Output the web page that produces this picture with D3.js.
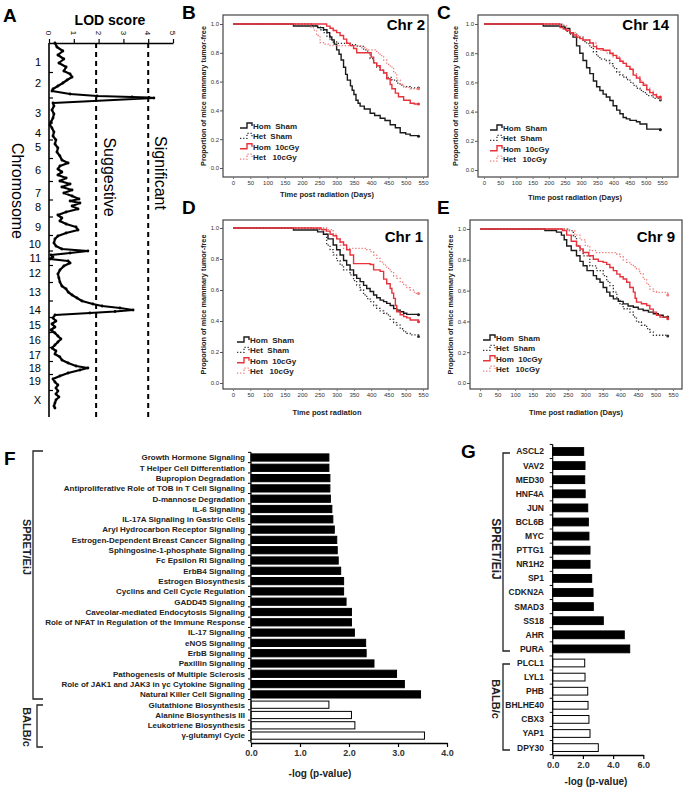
<!DOCTYPE html>
<html><head><meta charset="utf-8">
<script src="https://cdn.jsdelivr.net/npm/d3@7"></script>
<style>
body{margin:0;background:#fff}
svg{display:block}
text{font-family:"Liberation Sans",Arial,sans-serif}
.pre{white-space:pre}
</style>
</head><body>
<svg id="c" width="685" height="790"></svg>
<script>
// ---------- DATA ----------
// Panel A: LOD profile (genome position index, LOD)
const chrLabels = ["1","2","3","4","5","6","7","8","9","10","11","12","13","14","15","16","17","18","19","X"];
const chrCenters = [19,40,70,90,104,127,150,164,184,201,215,230,249,267,282,297,312,325,338,357];
const lodTicks = [0,1,2,3,4,5];
const suggestiveLOD = 1.9;
const significantLOD = 4.0;
const lodCurve = [
 [0,0.24],[4,0.32],[8,0.56],[12,0.36],[16,0.60],[20,0.40],[24,0.69],[28,0.60],[31,0.85],[34,0.93],[37,0.73],[40,0.56],[43,0.36],[46,0.16],[48,0.12],
 [51,0.85],[53,1.94],[54,3.35],[54.5,4.03],[55,4.23],[60,0.16],
 [63,0.20],[67,0.12],[71,0.20],[75,0.16],[79,0.08],[82,0.04],
 [85,0.12],[89,0.20],[93,0.16],[97,0.28],[101,0.24],[105,0.36],[109,0.32],[113,0.44],[117,0.52],[120,0.77],[123,0.44],[126,0.36],
 [129,0.52],[132,0.36],[135,0.69],[138,0.44],[141,0.85],[144,0.52],[147,0.93],[150,0.60],
 [153,0.93],[156,1.21],[158,0.85],[160,1.25],[163,0.93],[166,1.17],[169,0.69],
 [172,0.36],[175,0.52],[178,0.44],[181,0.69],[184,1.09],[187,1.17],[190,0.69],[193,0.36],
 [196,0.24],[200,0.20],[203,0.28],[206,0.52],[208,1.57],[210,0.85],[212,0.08],[214,0.16],[216,0.04],
 [218,0.77],[220,0.85],[223,0.60],[227,0.44],[231,0.36],[235,0.40],[239,0.44],[243,0.52],[246,0.69],[249,0.77],[252,0.93],[255,1.13],[258,1.33],[261,1.77],[263,2.14],[265,2.86],[267,3.39],[268.5,2.66],[270,1.65],[272,0.24],
 [275,0.16],[278,0.28],[281,0.12],[284,0.24],[287,0.08],[290,0.24],
 [293,0.36],[296,0.48],[299,0.36],[302,0.24],[305,0.12],[308,0.28],[311,0.24],
 [314,0.44],[317,0.52],[320,0.77],[323,1.09],[325,1.57],[327,1.25],[330,0.77],[333,0.44],[336,0.16],
 [339,0.24],[342,0.36],[345,0.28],[348,0.36],[351,0.28],[354,0.40],[357,0.28],[360,0.24],[363,0.20],[365,0.24]
];

// Panels B-E: Kaplan-Meier curves [day, proportion tumor-free]
const kmXTicks = [0,50,100,150,200,250,300,350,400,450,500,550];
const kmYTicks = [0,0.2,0.4,0.6,0.8,1.0];
const kmSeriesNames = ["Hom  Sham","Het  Sham","Hom  10cGy","Het   10cGy"];

const chr2HomSham = [[0,1],[175,0.986],[245,0.975],[262,0.96],[272,0.94],[280,0.91],[286,0.89],[293,0.86],[300,0.82],[307,0.79],[313,0.75],[320,0.70],[326,0.65],[331,0.61],[340,0.57],[345,0.54],[350,0.51],[356,0.47],[362,0.45],[368,0.43],[380,0.41],[397,0.38],[410,0.365],[426,0.345],[440,0.33],[455,0.30],[470,0.28],[484,0.245],[500,0.235],[513,0.225],[537,0.22]];
const chr2HetSham = [[0,1],[230,0.99],[242,0.98],[252,0.96],[262,0.94],[272,0.915],[281,0.89],[290,0.875],[300,0.866],[339,0.856],[360,0.845],[378,0.82],[390,0.80],[397,0.76],[407,0.73],[416,0.70],[426,0.68],[436,0.66],[445,0.63],[460,0.61],[474,0.59],[484,0.575],[494,0.565],[513,0.556],[537,0.556]];
const chr2Hom10 = [[0,1],[271,0.985],[281,0.97],[290,0.955],[300,0.94],[310,0.92],[320,0.895],[329,0.866],[339,0.85],[349,0.83],[358,0.80],[400,0.77],[407,0.73],[416,0.71],[426,0.68],[436,0.66],[445,0.62],[455,0.58],[460,0.55],[470,0.52],[479,0.495],[494,0.47],[513,0.45],[525,0.444],[537,0.444]];
const chr2Het10 = [[0,1],[225,0.98],[233,0.958],[242,0.92],[252,0.87],[262,0.86],[281,0.85],[349,0.85],[370,0.835],[387,0.82],[416,0.80],[426,0.78],[436,0.75],[445,0.72],[455,0.70],[465,0.66],[474,0.61],[484,0.58],[494,0.56],[513,0.55],[537,0.55]];

const chr14HomSham = [[0,1],[183,0.986],[240,0.98],[250,0.97],[265,0.94],[275,0.91],[286,0.85],[296,0.80],[306,0.75],[317,0.70],[327,0.66],[338,0.61],[348,0.57],[358,0.545],[368,0.52],[378,0.50],[389,0.476],[399,0.44],[410,0.41],[420,0.385],[430,0.36],[440,0.35],[451,0.34],[471,0.33],[482,0.315],[503,0.28],[545,0.275]];
const chr14HetSham = [[0,1],[240,0.99],[250,0.96],[255,0.95],[265,0.93],[286,0.91],[306,0.88],[317,0.865],[327,0.84],[338,0.81],[348,0.78],[358,0.76],[378,0.75],[389,0.729],[399,0.70],[410,0.67],[420,0.65],[430,0.637],[440,0.62],[451,0.60],[461,0.58],[471,0.56],[482,0.545],[492,0.53],[503,0.51],[523,0.49],[545,0.48]];
const chr14Hom10 = [[0,1],[235,0.975],[245,0.965],[255,0.955],[265,0.94],[275,0.925],[286,0.91],[296,0.90],[306,0.89],[327,0.87],[338,0.845],[348,0.83],[368,0.82],[389,0.80],[399,0.785],[410,0.765],[420,0.745],[430,0.73],[440,0.71],[451,0.69],[461,0.65],[471,0.63],[482,0.60],[492,0.58],[503,0.55],[512,0.53],[523,0.515],[533,0.50],[545,0.50]];
const chr14Het10 = [[0,1],[235,0.99],[255,0.96],[265,0.94],[286,0.92],[296,0.91],[306,0.89],[327,0.87],[348,0.83],[358,0.82],[378,0.80],[389,0.79],[399,0.775],[420,0.75],[430,0.73],[440,0.71],[451,0.69],[461,0.66],[471,0.64],[482,0.61],[492,0.59],[503,0.56],[512,0.54],[523,0.52],[533,0.50],[545,0.49]];

const chr1HomSham = [[0,1],[175,0.987],[245,0.975],[262,0.96],[275,0.93],[290,0.89],[300,0.86],[310,0.826],[320,0.79],[329,0.761],[339,0.73],[349,0.697],[358,0.675],[368,0.654],[378,0.63],[387,0.61],[397,0.59],[407,0.568],[416,0.55],[426,0.535],[436,0.525],[445,0.514],[455,0.50],[465,0.48],[474,0.47],[484,0.46],[494,0.45],[503,0.443],[537,0.44]];
const chr1HetSham = [[0,1],[230,0.995],[250,0.99],[262,0.96],[271,0.89],[281,0.86],[290,0.826],[300,0.79],[310,0.76],[320,0.73],[339,0.697],[349,0.66],[358,0.632],[368,0.60],[378,0.568],[387,0.545],[397,0.525],[407,0.50],[416,0.482],[426,0.465],[436,0.45],[445,0.439],[455,0.41],[465,0.39],[474,0.374],[484,0.35],[494,0.33],[503,0.32],[513,0.31],[537,0.30]];
const chr1Hom10 = [[0,1],[255,0.99],[270,0.98],[281,0.96],[290,0.95],[300,0.93],[310,0.91],[320,0.89],[329,0.86],[339,0.826],[349,0.77],[397,0.765],[407,0.73],[426,0.72],[436,0.67],[445,0.64],[455,0.61],[460,0.58],[465,0.546],[470,0.50],[474,0.46],[484,0.44],[494,0.428],[503,0.42],[513,0.406],[537,0.395]];
const chr1Het10 = [[0,1],[275,0.99],[290,0.96],[300,0.93],[310,0.89],[320,0.869],[387,0.86],[397,0.847],[407,0.825],[416,0.804],[426,0.78],[436,0.76],[445,0.74],[455,0.718],[465,0.69],[474,0.675],[484,0.65],[494,0.632],[503,0.615],[513,0.60],[525,0.578],[537,0.578]];

const chr9HomSham = [[0,1],[185,0.99],[218,0.98],[232,0.96],[240,0.93],[247,0.89],[260,0.86],[275,0.826],[285,0.79],[294,0.761],[305,0.73],[323,0.697],[332,0.675],[342,0.654],[351,0.62],[361,0.59],[370,0.565],[380,0.546],[394,0.53],[408,0.514],[422,0.50],[437,0.492],[451,0.48],[465,0.471],[480,0.46],[494,0.45],[508,0.44],[522,0.428],[535,0.428]];
const chr9HetSham = [[0,1],[255,0.99],[266,0.95],[275,0.89],[285,0.86],[294,0.826],[313,0.76],[332,0.73],[351,0.697],[361,0.66],[370,0.632],[380,0.59],[390,0.546],[399,0.51],[408,0.482],[427,0.46],[437,0.43],[446,0.396],[460,0.375],[475,0.353],[484,0.33],[494,0.31],[535,0.305]];
const chr9Hom10 = [[0,1],[235,0.99],[247,0.96],[260,0.92],[275,0.89],[285,0.87],[294,0.847],[310,0.826],[323,0.804],[337,0.79],[351,0.783],[361,0.77],[370,0.75],[380,0.73],[390,0.707],[399,0.69],[408,0.675],[418,0.654],[427,0.62],[437,0.59],[442,0.55],[446,0.525],[460,0.515],[475,0.503],[484,0.48],[494,0.46],[503,0.44],[513,0.428],[535,0.417]];
const chr9Het10 = [[0,1],[255,0.99],[270,0.96],[285,0.93],[300,0.89],[313,0.86],[332,0.847],[390,0.836],[399,0.82],[408,0.80],[418,0.783],[427,0.77],[437,0.755],[446,0.74],[455,0.71],[465,0.675],[475,0.64],[484,0.61],[494,0.595],[503,0.589],[535,0.572]];

// Panel F: canonical pathways
const fTerms = ["Growth Hormone Signaling","T Helper Cell Differentiation","Bupropion Degradation","Antiproliferative Role of TOB in T Cell Signaling","D-mannose Degradation","IL-6 Signaling","IL-17A Signaling in Gastric Cells","Aryl Hydrocarbon Receptor Signaling","Estrogen-Dependent Breast Cancer Signaling","Sphingosine-1-phosphate Signaling","Fc Epsilon RI Signaling","ErbB4 Signaling","Estrogen Biosynthesis","Cyclins and Cell Cycle Regulation","GADD45 Signaling","Caveolar-mediated Endocytosis Signaling","Role of NFAT in Regulation of the Immune Response","IL-17 Signaling","eNOS Signaling","ErbB Signaling","Paxillin Signaling","Pathogenesis of Multiple Sclerosis","Role of JAK1 and JAK3 in γc Cytokine Signaling","Natural Killer Cell Signaling","Glutathione Biosynthesis","Alanine Biosynthesis III","Leukotriene Biosynthesis","γ-glutamyl Cycle"];
const fValues = [1.59,1.59,1.61,1.61,1.62,1.65,1.67,1.70,1.75,1.76,1.78,1.83,1.89,1.89,1.94,2.05,2.05,2.11,2.34,2.35,2.51,2.97,3.13,3.46,1.59,2.05,2.12,3.54];
const fSpretCount = 24;
const fTicks = [0,1,2,3,4];

// Panel G: upstream regulators
const gGenes = ["ASCL2","VAV2","MED30","HNF4A","JUN","BCL6B","MYC","PTTG1","NR1H2","SP1","CDKN2A","SMAD3","SS18","AHR","PURA","PLCL1","LYL1","PHB","BHLHE40","CBX3","YAP1","DPY30"];
const gValues = [2.05,2.14,2.12,2.15,2.32,2.36,2.40,2.47,2.47,2.58,2.67,2.69,3.35,4.74,5.10,2.12,2.14,2.32,2.34,2.40,2.47,3.02];
const gSpretCount = 15;
const gTicks = [0,2,4,6];

// ---------- DRAW ----------
const svg = d3.select("#c");
svg.append("rect").attr("width",685).attr("height",790).attr("fill","#fff");
const FONT = "'Liberation Sans',Arial,sans-serif";

function panelLabel(t,x,y){
  svg.append("text").attr("x",x).attr("y",y).attr("font-size",19).attr("font-weight","bold").text(t);
}

// ===== Panel A =====
(function(){
  const g = svg.append("g");
  const xL = d3.scaleLinear().domain([0,5]).range([49,173]);
  const yP = d3.scaleLinear().domain([0,374]).range([43,417]);
  panelLabel("A",3,22);
  g.append("text").attr("x",110).attr("y",25).attr("text-anchor","middle").attr("font-size",14).attr("font-weight","bold").text("LOD  score");
  const ax = g.append("g").attr("transform","translate(0,43)")
    .call(d3.axisTop(xL).tickValues(lodTicks).tickSize(4).tickSizeOuter(0).tickFormat(""));
  ax.select(".domain").attr("stroke","#000").attr("stroke-width",1.6);
  ax.selectAll(".tick line").attr("stroke","#000").attr("stroke-width",1.2);
  lodTicks.forEach(t=>{
    g.append("text").attr("x",xL(t)).attr("y",33).attr("transform",`rotate(90,${xL(t)},33)`)
      .attr("text-anchor","middle").attr("dy","0.35em").attr("font-size",8).text(t);
  });
  g.append("line").attr("x1",49).attr("x2",49).attr("y1",yP(0)).attr("y2",yP(374)).attr("stroke","#000").attr("stroke-width",1.6);
  for(let i=0;i<chrCenters.length-1;i++){
    const b=(chrCenters[i]+chrCenters[i+1])/2;
    g.append("line").attr("x1",49).attr("x2",53).attr("y1",yP(b)).attr("y2",yP(b)).attr("stroke","#000").attr("stroke-width",1.2);
  }
  chrLabels.forEach((c,i)=>{
    g.append("text").attr("x",41).attr("y",yP(chrCenters[i])).attr("dy","0.35em").attr("text-anchor","end").attr("font-size",11).text(c);
  });
  g.append("text").attr("transform",`translate(18,191) rotate(90)`).attr("text-anchor","middle").attr("dy","0.35em").attr("font-size",16).text("Chromosome");
  [[suggestiveLOD,"Suggestive",110,177],[significantLOD,"Significant",161,173]].forEach(([v,lab,tx,ty])=>{
    g.append("line").attr("x1",xL(v)).attr("x2",xL(v)).attr("y1",yP(0)).attr("y2",yP(374))
      .attr("stroke","#000").attr("stroke-width",2).attr("stroke-dasharray","5,4");
    g.append("text").attr("transform",`translate(${tx},${ty}) rotate(90)`).attr("text-anchor","middle").attr("dy","0.35em").attr("font-size",16).text(lab);
  });
  const line = d3.line().x(d=>xL(d[1])).y(d=>yP(d[0]));
  g.append("path").datum(lodCurve).attr("d",line).attr("fill","none").attr("stroke","#000").attr("stroke-width",2.2).attr("stroke-linejoin","round");
  g.selectAll("circle.lod").data(lodCurve).enter().append("circle").attr("cx",d=>xL(d[1])).attr("cy",d=>yP(d[0])).attr("r",1.4).attr("fill","#000");
})();

// ===== KM panels =====
const kmStyles = [
  {stroke:"#1a1a1a", w:1.4, dash:null},
  {stroke:"#333", w:1.3, dash:"1.3,1.8"},
  {stroke:"#e8323c", w:1.4, dash:null},
  {stroke:"#f07a7a", w:1.3, dash:"1.3,1.8"}
];
function km(p){
  const g = svg.append("g");
  const x = d3.scaleLinear().domain([0,550]).range(p.xr);
  const y = d3.scaleLinear().domain([0,1]).range(p.yr);
  panelLabel(p.label,p.lx,p.ly);
  g.append("rect").attr("x",p.f[0]).attr("y",p.f[1]).attr("width",p.f[2]-p.f[0]).attr("height",p.f[3]-p.f[1])
    .attr("fill","none").attr("stroke","#444").attr("stroke-width",1.2);
  const ya = g.append("g").attr("transform",`translate(${p.f[0]},0)`)
    .call(d3.axisLeft(y).tickValues(kmYTicks).tickFormat(d3.format(".1f")).tickSize(3).tickPadding(1));
  ya.select(".domain").remove();
  ya.selectAll("text").attr("font-size",6).attr("font-family",FONT).attr("fill","#333");
  ya.selectAll("line").attr("stroke","#555");
  const xa = g.append("g").attr("transform",`translate(0,${p.f[3]})`)
    .call(d3.axisBottom(x).tickValues(kmXTicks).tickSize(2).tickPadding(2));
  xa.select(".domain").remove();
  xa.selectAll("text").attr("font-size",6).attr("font-family",FONT).attr("fill","#333");
  xa.selectAll("line").attr("stroke","#777");
  g.append("text").attr("transform",`translate(${p.ytx},${(p.f[1]+p.f[3])/2}) rotate(-90)`).attr("text-anchor","middle").attr("dy","0.35em")
    .attr("font-size",7.3).attr("font-weight","bold").attr("fill","#222").text("Proportion of mice mammary tumor-free");
  g.append("text").attr("x",p.xt[0]).attr("y",p.xt[1]).attr("text-anchor","middle").attr("font-size",7.5).attr("font-weight","bold").attr("fill","#222").text(p.xtitle);
  g.append("text").attr("x",p.chr[0]).attr("y",p.chr[1]).attr("text-anchor","end").attr("font-size",15).attr("font-weight","bold").text(p.chrName);
  const line = d3.line().x(d=>x(d[0])).y(d=>y(d[1])).curve(d3.curveStepAfter);
  const order=[1,0,3,2];
  order.forEach(i=>{
    const s=kmStyles[i], data=p.series[i];
    const path=g.append("path").datum(data).attr("d",line).attr("fill","none").attr("stroke",s.stroke).attr("stroke-width",s.w);
    if(s.dash) path.attr("stroke-dasharray",s.dash);
    const last=data[data.length-1];
    g.append("circle").attr("cx",x(last[0])).attr("cy",y(last[1])).attr("r",1.5).attr("fill",s.stroke);
  });
  kmSeriesNames.forEach((n,i)=>{
    const s=kmStyles[i], ly=p.leg[1]+i*10.4, lx=p.leg[0];
    const sym=g.append("path").attr("d",`M${lx},${ly+2} H${lx+7} V${ly-3} H${lx+12} V${ly}`).attr("fill","none").attr("stroke",s.stroke).attr("stroke-width",s.w);
    if(s.dash) sym.attr("stroke-dasharray",s.dash);
    g.append("text").attr("class","pre").attr("x",lx+13).attr("y",ly).attr("dy","0.35em").attr("font-size",8).attr("font-weight","bold").attr("fill","#222").text(n);
  });
}
km({label:"B",lx:182,ly:19,f:[223,15,428,177],xr:[233,423],yr:[168,24],ytx:203,xt:[327,197],xtitle:"Time post radiation (Days)",chr:[425,30],chrName:"Chr 2",leg:[240,126],series:[chr2HomSham,chr2HetSham,chr2Hom10,chr2Het10]});
km({label:"C",lx:437,ly:19,f:[478,15,678,177],xr:[484,662],yr:[170,24],ytx:455,xt:[575,200],xtitle:"Time post radiation (Days)",chr:[669,30],chrName:"Chr 14",leg:[490,128],series:[chr14HomSham,chr14HetSham,chr14Hom10,chr14Het10]});
km({label:"D",lx:182,ly:214,f:[223,220,428,389],xr:[233,423],yr:[383,228],ytx:203,xt:[327,415],xtitle:"Time post radiation",chr:[423,242],chrName:"Chr 1",leg:[237,340],series:[chr1HomSham,chr1HetSham,chr1Hom10,chr1Het10]});
km({label:"E",lx:437,ly:214,f:[470,220,682,389],xr:[480,673],yr:[383,229],ytx:450,xt:[576,415],xtitle:"Time post radiation (Days)",chr:[675,242],chrName:"Chr 9",leg:[483,338],series:[chr9HomSham,chr9HetSham,chr9Hom10,chr9Het10]});

// ===== Bar panels =====
function bars(p){
  const g = svg.append("g");
  panelLabel(p.label,p.lx,p.ly);
  const x = d3.scaleLinear().domain(p.dom).range(p.xr);
  const n = p.names.length;
  const y = d3.scaleBand().domain(p.names).range(p.yr).paddingInner(p.pad).paddingOuter(p.pad/2);
  const step = y.step();
  g.selectAll("rect.bar").data(p.names).enter().append("rect")
    .attr("x",x(0)).attr("y",d=>y(d)).attr("width",(d,i)=>x(p.values[i])-x(0)).attr("height",y.bandwidth())
    .attr("fill",(d,i)=>i<p.spret?"#000":"#fff").attr("stroke","#000").attr("stroke-width",1);
  g.selectAll("text.lab").data(p.names).enter().append("text")
    .attr("x",p.labx).attr("y",d=>y(d)+y.bandwidth()/2).attr("dy","0.35em").attr("text-anchor","end")
    .attr("font-size",p.fs).attr("font-weight","bold").attr("fill","#222").text(d=>d);
  g.append("line").attr("x1",x(0)).attr("x2",x(0)).attr("y1",p.yr[0]).attr("y2",p.axisY).attr("stroke","#000").attr("stroke-width",1.2);
  for(let i=0;i<=n;i++){
    const yy=p.yr[0]+i*step;
    g.append("line").attr("x1",x(0)-3).attr("x2",x(0)).attr("y1",yy).attr("y2",yy).attr("stroke","#000").attr("stroke-width",1);
  }
  const xa = g.append("g").attr("transform",`translate(0,${p.axisY})`)
    .call(d3.axisBottom(x).tickValues(p.ticks).tickFormat(d3.format(".1f")).tickSize(4).tickSizeOuter(0));
  xa.select(".domain").attr("stroke","#000").attr("stroke-width",1.3);
  xa.selectAll("line").attr("stroke","#000").attr("stroke-width",1.2);
  xa.selectAll("text").attr("font-size",9).attr("font-weight","bold").attr("font-family",FONT).attr("fill","#333");
  g.append("text").attr("x",p.xt[0]).attr("y",p.xt[1]).attr("text-anchor","middle").attr("font-size",10).attr("font-weight","bold").attr("fill","#222").text("-log (p-value)");
  p.brackets.forEach(b=>{
    g.append("path").attr("d",`M${b.x2},${b.y1} H${b.x1} V${b.y2} H${b.x2}`).attr("fill","none").attr("stroke","#222").attr("stroke-width",1.3);
    g.append("text").attr("transform",`translate(${b.tx},${b.ty}) rotate(90)`).attr("text-anchor","middle").attr("dy","0.35em")
      .attr("font-size",b.fs).attr("font-weight","bold").attr("fill","#222").text(b.text);
  });
}
bars({label:"F",lx:4,ly:465,names:fTerms,values:fValues,spret:fSpretCount,dom:[0,4],xr:[251,447],yr:[452.35,740.75],pad:0.3,
  labx:245,fs:8,axisY:743,ticks:fTicks,xt:[320,777],
  brackets:[{x1:33,x2:43,y1:451,y2:699,tx:27,ty:547,text:"SPRET/EiJ",fs:11},{x1:37,x2:43,y1:705,y2:747,tx:27,ty:727,text:"BALB/c",fs:11}]});
bars({label:"G",lx:461,ly:458,names:gGenes,values:gValues,spret:gSpretCount,dom:[0,6],xr:[552.7,643.3],yr:[444.45,754.65],pad:0.45,
  labx:544,fs:8.5,axisY:755,ticks:gTicks,xt:[596,785],
  brackets:[{x1:503,x2:510,y1:453,y2:651,tx:496,ty:549,text:"SPRET/EiJ",fs:12},{x1:503,x2:510,y1:664,y2:750,tx:496,ty:699,text:"BALB/c",fs:11}]});
</script>
</body></html>
